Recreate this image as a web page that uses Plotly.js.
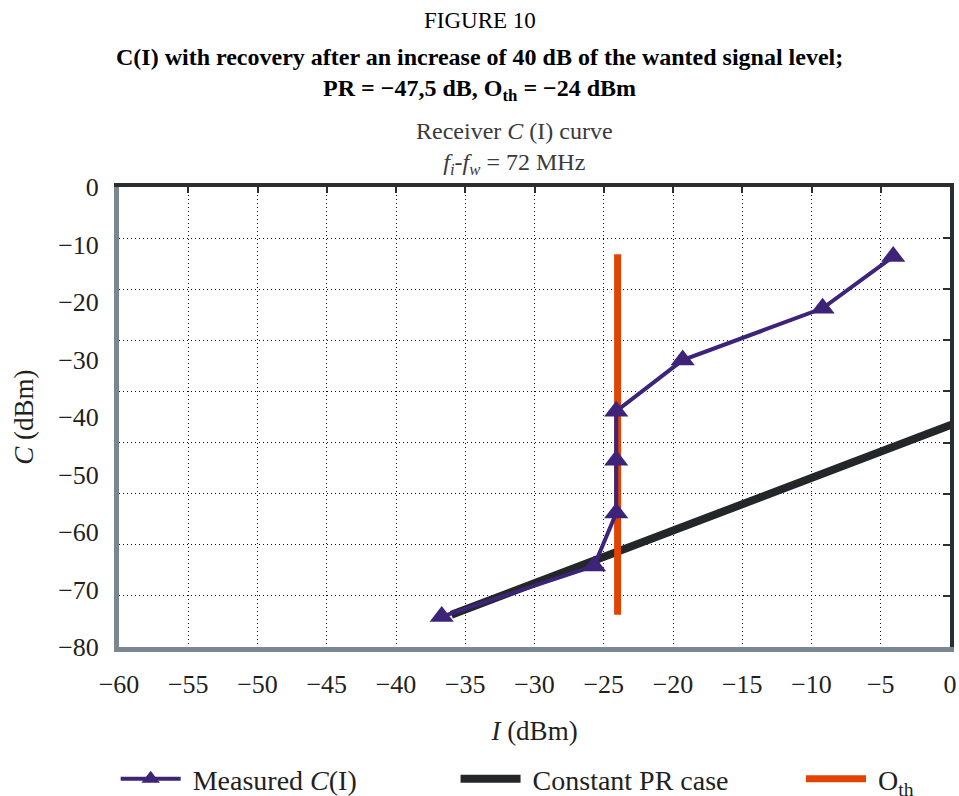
<!DOCTYPE html>
<html>
<head>
<meta charset="utf-8">
<script src="https://cdn.plot.ly/plotly-3.0.1.min.js"></script>
<style>html,body{margin:0;padding:0;background:#fff;}#chart{width:959px;height:796px;}</style>
</head>
<body>
<div id="chart"></div>
<script>
// Measured C(I) points (I in dBm, C in dBm)
var measuredI = [-36.7, -25.7, -24.1, -24.1, -24.1, -19.3, -9.2, -4.1];
var measuredC = [-74.7, -65.9, -56.7, -47.5, -39.0, -30.1, -21.1, -12.1];
// Constant PR case line
var constPRI = [-36.0, 0.7];
var constPRC = [-74.4, -40.8];
// O_th threshold line
var othI = [-24.0, -24.0];
var othC = [-74.4, -11.7];
// Axis ticks
var xTicks = [-60, -55, -50, -45, -40, -35, -30, -25, -20, -15, -10, -5, 0];
var yTicks = [0, -10, -20, -30, -40, -50, -60, -70, -80];

var FONT = 'Liberation Serif, Times New Roman, serif';
var fmt = function (v) { return v < 0 ? '\u2212' + Math.abs(v) : String(v); };

var traces = [
  {
    x: constPRI, y: constPRC, type: 'scatter', mode: 'lines',
    name: '\u00a0Constant PR case', legend: 'legend2', cliponaxis: false,
    line: {color: '#23272a', width: 8}
  },
  {
    x: othI, y: othC, type: 'scatter', mode: 'lines',
    name: '\u00a0O<sub>th</sub>', legend: 'legend3',
    line: {color: '#e24300', width: 7}
  },
  {
    x: measuredI, y: measuredC, type: 'scatter', mode: 'lines+markers',
    xaxis: 'x2', yaxis: 'y2',
    name: '\u00a0Measured <i>C</i>(I)', legend: 'legend',
    line: {color: '#3d2478', width: 4},
    marker: {symbol: 'triangle-up', size: 21, color: '#3d2478'}
  }
];

function legendAt(xp) {
  return {
    orientation: 'h', x: xp, xanchor: 'left', y: -0.287, yanchor: 'middle',
    font: {family: FONT, size: 28, color: '#231f20'},
    itemwidth: 60, bgcolor: 'rgba(0,0,0,0)'
  };
}

var layout = {
  width: 959, height: 796,
  margin: {l: 119, r: 9, t: 187, b: 149, autoexpand: false},
  paper_bgcolor: '#fff', plot_bgcolor: '#fff',
  font: {family: FONT, size: 26, color: '#231f20'},
  showlegend: true,
  legend: legendAt(-0.004),
  legend2: legendAt(0.405),
  legend3: legendAt(0.8207),
  xaxis: {
    range: [-60, 0], tickmode: 'array', tickvals: xTicks, ticktext: xTicks.map(fmt),
    showgrid: true, gridcolor: '#111', griddash: '1px,3px', gridwidth: 1,
    zeroline: false, showline: true, linecolor: '#7b8790', linewidth: 5,
    ticks: '', ticklabelstandoff: 10,
    tickfont: {family: FONT, size: 26, color: '#231f20'},
    title: {text: '<i>I</i> (dBm)', font: {family: FONT, size: 27, color: '#231f20'}, standoff: 24}
  },
  yaxis: {
    range: [-80, 0], tickmode: 'array', tickvals: yTicks, ticktext: yTicks.map(fmt),
    showgrid: false, zeroline: false, showline: true, linecolor: '#7b8790', linewidth: 5,
    ticks: '', ticklabelstandoff: 10,
    tickfont: {family: FONT, size: 26, color: '#231f20'},
    title: {text: '<i>C</i> (dBm)', font: {family: FONT, size: 27, color: '#231f20'}, standoff: 18}
  },
  xaxis2: {
    overlaying: 'x', side: 'top', anchor: 'y2', range: [-60, 0], dtick: 5, tick0: 0,
    showgrid: false, zeroline: false, showticklabels: false,
    showline: true, linecolor: '#2a2e31', linewidth: 4,
    ticks: 'inside', ticklen: 6, tickwidth: 2, tickcolor: '#2a2e31'
  },
  yaxis2: {
    overlaying: 'y', side: 'right', anchor: 'x2', range: [-80, 0], tick0: 0, dtick: 80 / 9,
    showgrid: true, gridcolor: '#111', griddash: '1px,3px', gridwidth: 1,
    zeroline: false, showticklabels: false,
    showline: true, linecolor: '#2a2e31', linewidth: 4,
    ticks: 'inside', ticklen: 7, tickwidth: 2, tickcolor: '#2a2e31'
  },
  annotations: [
    {text: 'FIGURE 10', xref: 'paper', yref: 'paper', x: 0.434, y: 1.363,
     xanchor: 'center', yanchor: 'middle', showarrow: false,
     font: {family: FONT, size: 23, color: '#000'}},
    {text: '<b>C(I) with recovery after an increase of 40 dB of the wanted signal level;</b><br><b>PR = \u221247,5 dB, O<sub>th</sub> = \u221224 dBm</b>',
     xref: 'paper', yref: 'paper', x: 0.434, y: 1.245,
     xanchor: 'center', yanchor: 'middle', showarrow: false, align: 'center',
     font: {family: FONT, size: 24, color: '#000'}},
    {text: 'Receiver <i>C</i> (I) curve<br><i>f<sub>i</sub></i>-<i>f<sub>w</sub></i> = 72 MHz',
     xref: 'paper', yref: 'paper', x: 0.476, y: 1.084,
     xanchor: 'center', yanchor: 'middle', showarrow: false, align: 'center',
     font: {family: FONT, size: 24, color: '#3a3a3a'}}
  ]
};

Plotly.newPlot('chart', traces, layout, {displayModeBar: false, staticPlot: true});
</script>
</body>
</html>
